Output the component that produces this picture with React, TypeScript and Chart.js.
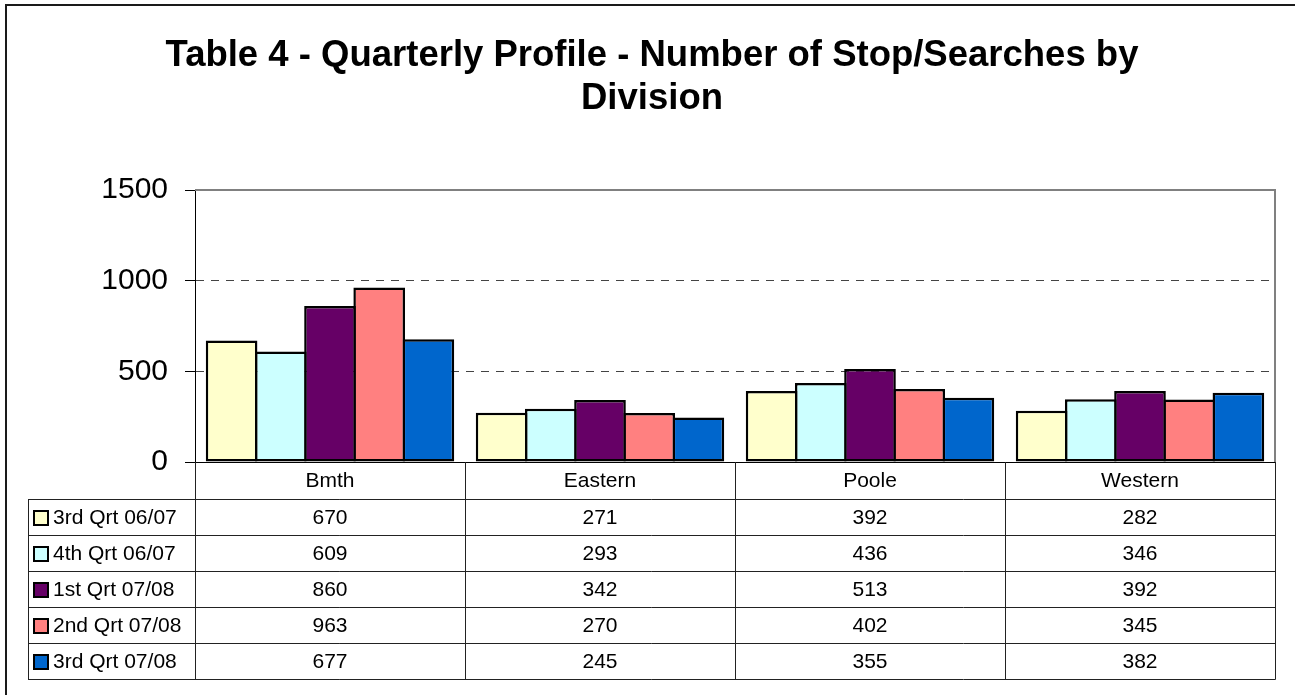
import React, { useEffect, useRef } from 'react';
import { Chart, registerables } from 'chart.js';

Chart.register(...registerables);

const TITLE_LINES = ['Table 4 - Quarterly Profile - Number of Stop/Searches by', 'Division'];
const CATEGORIES = ['Bmth', 'Eastern', 'Poole', 'Western'];
const SERIES_NAMES = ['3rd Qrt 06/07', '4th Qrt 06/07', '1st Qrt 07/08', '2nd Qrt 07/08', '3rd Qrt 07/08'];
const Q3_0607 = [670, 271, 392, 282];
const Q4_0607 = [609, 293, 436, 346];
const Q1_0708 = [860, 342, 513, 392];
const Q2_0708 = [963, 270, 402, 345];
const Q3_0708 = [677, 245, 355, 382];
const SERIES_VALUES = [Q3_0607, Q4_0607, Q1_0708, Q2_0708, Q3_0708];
const SERIES_COLORS = ['#FFFFCC', '#CCFFFF', '#660066', '#FF8080', '#0066CC'];
const Y_MIN = 0;
const Y_MAX = 1500;
const Y_STEP = 500;
const GRID_VALUES = [500, 1000];

const FONT = '"Liberation Sans", Arial, Helvetica, sans-serif';
const W = 1295;
const H = 695;

// table layout
const HEADER_H = 37;
const ROW_H = 36;
const LEGEND_LEFT = 28;

const tablePlugin = {
  id: 'excelTable',
  afterDraw(chart: any) {
    const ctx: CanvasRenderingContext2D = chart.ctx;
    const { left, right, top, bottom } = chart.chartArea;
    const xs = chart.scales.x;
    const catW = (right - left) / CATEGORIES.length;

    ctx.save();

    // outer frame (top + left edges visible)
    ctx.strokeStyle = '#1a1a1a';
    ctx.lineWidth = 2;
    ctx.beginPath();
    ctx.moveTo(6, H);
    ctx.lineTo(6, 5);
    ctx.lineTo(W, 5);
    ctx.stroke();

    // plot border top / right (gray)
    ctx.strokeStyle = '#808080';
    ctx.lineWidth = 2;
    ctx.beginPath();
    ctx.moveTo(left, top);
    ctx.lineTo(right, top);
    ctx.lineTo(right, bottom);
    ctx.stroke();

    // title
    ctx.fillStyle = '#000';
    ctx.font = `bold 36.5px ${FONT}`;
    ctx.textAlign = 'center';
    ctx.textBaseline = 'alphabetic';
    const cx = 652;
    ctx.fillText(TITLE_LINES[0], cx, 66);
    ctx.fillText(TITLE_LINES[1], cx, 109);

    // table lines
    const tableTop = bottom;
    const rowsTop = tableTop + HEADER_H;
    const tableBottom = rowsTop + ROW_H * SERIES_NAMES.length;
    ctx.strokeStyle = '#222';
    ctx.lineWidth = 1;
    ctx.beginPath();
    for (let r = 0; r <= SERIES_NAMES.length; r++) {
      const y = Math.round(rowsTop + r * ROW_H) + 0.5;
      ctx.moveTo(LEGEND_LEFT, y);
      ctx.lineTo(right + 0.5, y);
    }
    ctx.moveTo(LEGEND_LEFT + 0.5, rowsTop);
    ctx.lineTo(LEGEND_LEFT + 0.5, tableBottom + 0.5);
    for (let i = 0; i <= CATEGORIES.length; i++) {
      const x = Math.round(i < CATEGORIES.length ? xs.getPixelForValue(i) - catW / 2 : xs.getPixelForValue(i - 1) + catW / 2) + 0.5;
      ctx.moveTo(x, tableTop);
      ctx.lineTo(x, tableBottom + 0.5);
    }
    ctx.stroke();

    // header labels
    ctx.font = `21px ${FONT}`;
    ctx.textBaseline = 'middle';
    ctx.textAlign = 'center';
    ctx.fillStyle = '#000';
    CATEGORIES.forEach((c, i) => {
      ctx.fillText(c, xs.getPixelForValue(i), tableTop + HEADER_H / 2 + 1);
    });

    // rows
    SERIES_NAMES.forEach((name, r) => {
      const cy = rowsTop + r * ROW_H + ROW_H / 2 + 1;
      // legend key
      ctx.fillStyle = SERIES_COLORS[r];
      ctx.fillRect(34, cy - 7, 14, 14);
      ctx.strokeStyle = '#000';
      ctx.lineWidth = 2;
      ctx.strokeRect(34, cy - 7, 14, 14);
      ctx.fillStyle = '#000';
      ctx.textAlign = 'left';
      ctx.fillText(name, 53, cy);
      ctx.textAlign = 'center';
      SERIES_VALUES[r].forEach((v, i) => {
        ctx.fillText(String(v), xs.getPixelForValue(i), cy);
      });
    });

    ctx.restore();
  },
};

export default function App() {
  const ref = useRef<HTMLCanvasElement | null>(null);

  useEffect(() => {
    if (!ref.current) return;
    const chart = new Chart(ref.current, {
      type: 'bar',
      data: {
        labels: CATEGORIES,
        datasets: SERIES_NAMES.map((name, i) => ({
          label: name,
          data: SERIES_VALUES[i],
          backgroundColor: SERIES_COLORS[i],
          borderColor: '#000',
          borderWidth: 2.5,
          borderSkipped: false,
          barPercentage: 1.05,
          categoryPercentage: 0.911,
        })),
      },
      options: {
        responsive: false,
        animation: false,
        layout: { padding: { top: 190, left: 0, right: 20, bottom: 233 } },
        plugins: {
          legend: { display: false },
          title: { display: false },
          tooltip: { enabled: false },
        },
        scales: {
          x: {
            grid: { display: false },
            ticks: { display: false },
            border: { display: true, color: '#000', width: 1 },
            afterFit: (s: any) => { s.height = 0; },
          },
          y: {
            min: Y_MIN,
            max: Y_MAX,
            ticks: {
              stepSize: Y_STEP,
              color: '#000',
              padding: 17,
              font: { family: FONT, size: 30 },
              callback: (v: any) => String(v),
            },
            grid: {
              color: (c: any) => (c.tick && GRID_VALUES.includes(c.tick.value) ? '#444' : 'rgba(0,0,0,0)'),
              tickColor: '#000',
              tickLength: 10,
              lineWidth: 1,
            },
            border: { display: true, color: '#000', width: 1, dash: [8, 7] },
            afterFit: (s: any) => { s.width = 195; },
          },
        },
      },
      plugins: [tablePlugin],
    });
    return () => chart.destroy();
  }, []);

  return (
    <div style={{ position: 'absolute', left: 0, top: 0, width: W, height: H, background: '#fff' }}>
      <canvas ref={ref} width={W} height={H} style={{ display: 'block' }} />
    </div>
  );
}
